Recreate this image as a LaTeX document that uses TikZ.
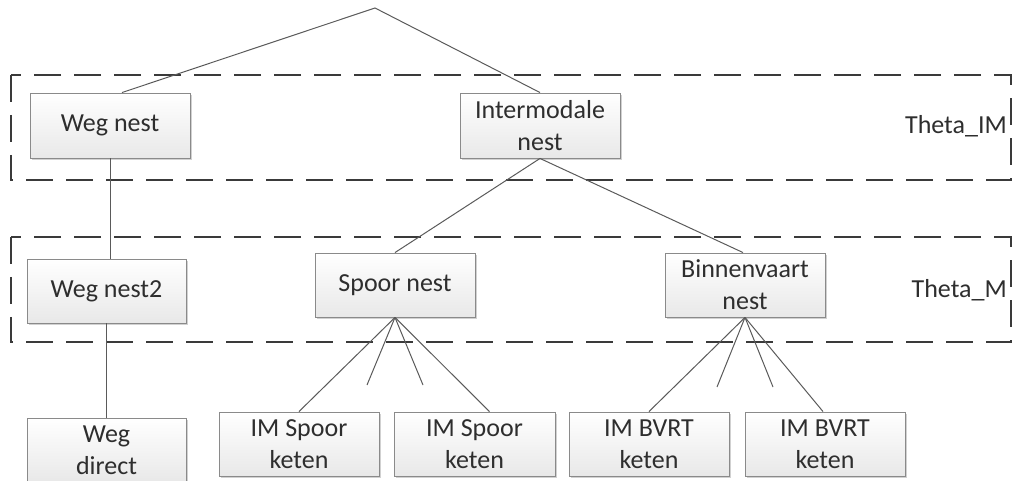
\documentclass[tikz,border=0pt]{standalone}
\usepackage{fontspec}
\setmainfont{Carlito}
\usetikzlibrary{calc,shadows}
\definecolor{boxline}{HTML}{8A8A8A}
\definecolor{conn}{HTML}{5A5A5A}
\definecolor{dashc}{HTML}{3A3A3A}
\definecolor{txt}{HTML}{2E2E2E}
\tikzset{
  nestbox/.style={draw=boxline, line width=0.9pt, top color=white, bottom color=black!9,
    minimum width=160pt, minimum height=65pt, inner sep=2pt, align=center,
    font=\fontsize{26}{32}\selectfont, text=txt,
    drop shadow={shadow xshift=2pt, shadow yshift=-2pt, opacity=0.18, fill=black}},
  conline/.style={draw=conn, line width=1pt},
  layer/.style={draw=dashc, line width=1.4pt, dash pattern=on 27pt off 13pt},
  thetalbl/.style={font=\fontsize{26}{32}\selectfont, text=txt, anchor=east, inner sep=0pt}
}
\begin{document}
\begin{tikzpicture}[x=1pt,y=-1pt]
\useasboundingbox (0,0) rectangle (1013,481);
% layers
\draw[layer] (11,75) rectangle (1011,180);
\draw[layer] (11,237) rectangle (1011,342);
\node[thetalbl] (thim) at (1007,126) {Theta\_IM};
\node[thetalbl] (thm) at (1007,290) {Theta\_M};
% nodes
\node[nestbox] (wegnest) at (110,125.5) {Weg nest};
\node[nestbox] (inter) at (540,125.5) {Intermodale\\nest};
\node[nestbox, minimum width=159pt, minimum height=64pt] (wegnest2) at (106.5,291) {Weg nest2};
\node[nestbox, minimum height=64pt] (spoor) at (395,285) {Spoor nest};
\node[nestbox, minimum height=64pt] (binnen) at (745,285) {Binnenvaart\\nest};
\node[nestbox, minimum width=159pt, minimum height=64pt] (wegdirect) at (106.5,450) {Weg\\direct};
\node[nestbox, minimum height=64pt] (ims1) at (299,444) {IM Spoor\\keten};
\node[nestbox, minimum width=161pt, minimum height=64pt] (ims2) at (474.5,444) {IM Spoor\\keten};
\node[nestbox, minimum height=64pt] (bv1) at (649,444) {IM BVRT\\keten};
\node[nestbox, minimum height=64pt] (bv2) at (825,444) {IM BVRT\\keten};
% free ends
\coordinate (apex) at (375,8);
\coordinate (sp1) at (367,385);
\coordinate (sp2) at (423,385);
\coordinate (bn1) at (717,387);
\coordinate (bn2) at (773,387);
% connectors
\draw[conline] ($(wegnest.north)+(12,0)$) -- (apex) -- (inter.north);
\draw[conline] (wegnest.south) -- (wegnest.south |- wegnest2.north);
\draw[conline] (wegnest2.south) -- (wegnest2.south |- wegdirect.north);
\draw[conline] (inter.south) -- (spoor.north);
\draw[conline] (inter.south) -- ($(binnen.north)+(-2,0)$);
\draw[conline] (spoor.south) -- (ims1.north);
\draw[conline] (spoor.south) -- ($(ims2.north)+(15,0)$);
\draw[conline] (spoor.south) -- (sp1);
\draw[conline] (spoor.south) -- (sp2);
\draw[conline] (binnen.south) -- (bv1.north);
\draw[conline] (binnen.south) -- ($(bv2.north)+(-2,0)$);
\draw[conline] (binnen.south) -- (bn1);
\draw[conline] (binnen.south) -- (bn2);
\end{tikzpicture}
\end{document}
